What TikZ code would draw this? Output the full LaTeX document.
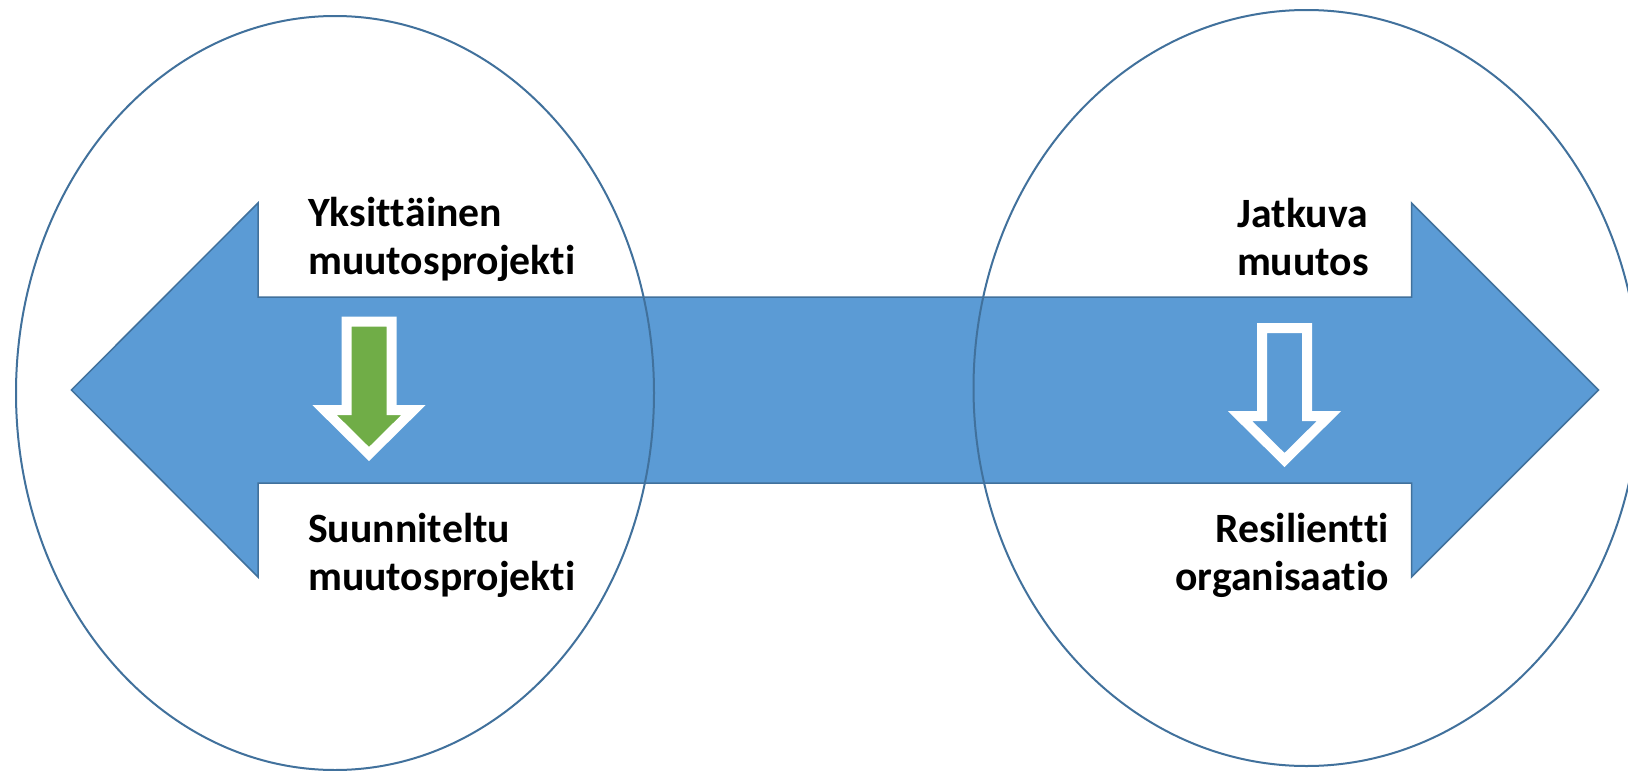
\documentclass[tikz,border=0pt]{standalone}
\usepackage{fontspec}
\setmainfont{Carlito}[Ligatures={NoCommon,NoRare,NoContextual}]
\newcommand{\nolig}{\kern0pt }
\definecolor{arrowblue}{HTML}{5B9BD5}
\definecolor{edgeblue}{HTML}{41719C}
\definecolor{leafgreen}{HTML}{70AD47}
\begin{document}
\begin{tikzpicture}[x=1pt,y=-1pt,
  lbl/.style={inner sep=0pt, font=\bfseries\fontsize{41.7}{48}\selectfont},
  bigarrow/.style={draw=edgeblue, line width=1.5pt, fill=arrowblue, line join=miter},
  smallarrow/.style={draw=white, line width=10pt, line join=miter},
  ring/.style={draw=edgeblue, line width=2pt}]
\useasboundingbox (0,0) rectangle (1628,771);
\fill[white] (0,0) rectangle (1628,771);
% big double arrow
\path[bigarrow] (71.4,390) -- (258,203) -- (258,297) -- (1411.5,297) -- (1411.5,203)
  -- (1598.5,390) -- (1411.5,577) -- (1411.5,483) -- (258,483) -- (258,577) -- cycle;
% small down arrows
\path[smallarrow, fill=leafgreen] (346.5,321.5) -- (391.5,321.5) -- (391.5,410) -- (413.5,410)
  -- (369,454) -- (324.5,410) -- (346.5,410) -- cycle;
\path[smallarrow, fill=arrowblue] (1262,328) -- (1307,328) -- (1307,416) -- (1329,416)
  -- (1284.5,460) -- (1240,416) -- (1262,416) -- cycle;
% ellipses
\draw[ring] (335,393) ellipse [x radius=319pt, y radius=377pt];
\draw[ring] (1306.5,388) ellipse [x radius=333pt, y radius=378pt];
% labels
\node[lbl, anchor=base west] (y1) at (308,226) {Yksit\nolig t\nolig äinen};
\node[lbl, anchor=base west] (y2) at (308,274) {muutosprojekt\nolig i};
\node[lbl, anchor=base west] (s1) at (308,542) {Suunnit\nolig eltu};
\node[lbl, anchor=base west] (s2) at (308,590) {muutosprojekt\nolig i};
\node[lbl, anchor=base east] (j1) at (1368,227) {Jatkuva};
\node[lbl, anchor=base east] (j2) at (1369,275) {muutos};
\node[lbl, anchor=base east] (r1) at (1389,542) {Resilient\nolig t\nolig i};
\node[lbl, anchor=base east] (r2) at (1389,590) {organisaat\nolig io};
\end{tikzpicture}
\end{document}
